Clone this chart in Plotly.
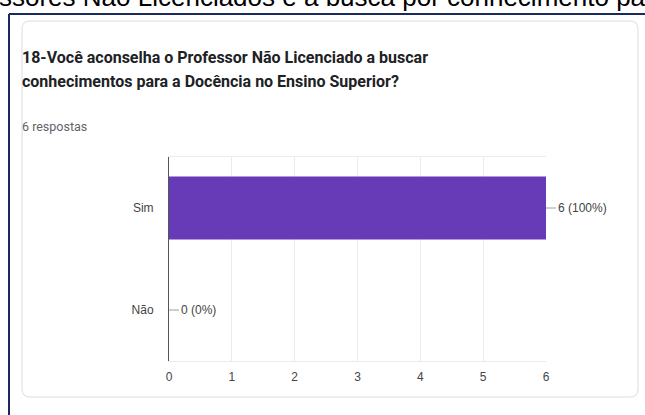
import plotly.graph_objects as go

# ---- data ----
categories = ["Sim", "Não"]
counts = [6, 0]
pct_labels = ["6 (100%)", "0 (0%)"]
x_ticks = [0, 1, 2, 3, 4, 5, 6]
title_lines = [
    "18-Você aconselha o Professor Não Licenciado a buscar",
    "conhecimentos para a Docência no Ensino Superior?",
]
subtitle = "6 respostas"
header_text = "ssores Não Licenciados e a busca por conhecimento para"

W, H = 645, 415
L, R, T, B = 169, 99, 157, 54
PW, PH = W - L - R, H - T - B


def px(X):
    return (X - L) / PW


def py(Y):
    return (H - B - Y) / PH


fig = go.Figure()
fig.add_trace(go.Bar(
    y=categories, x=counts, orientation="h",
    marker=dict(color="#673ab7", line=dict(width=0)),
    hoverinfo="skip",
))

annotations = []
for cat, val, lab in zip(categories, counts, pct_labels):
    annotations.append(dict(
        x=val, y=cat, xref="x", yref="y", text=lab,
        showarrow=True, arrowhead=0, arrowwidth=1, arrowcolor="#9e9e9e",
        ax=10, ay=0, xanchor="left", yanchor="middle",
        font=dict(family="Liberation Sans, Arial", size=12, color="#444444"),
    ))

# title & subtitle
for i, line in enumerate(title_lines):
    annotations.append(dict(
        x=px(20), y=py(57 + 24 * i), xref="paper", yref="paper",
        text="<b>" + line + "</b>", showarrow=False,
        xanchor="left", yanchor="middle",
        font=dict(family="Roboto", size=16, color="#202124"),
    ))
annotations.append(dict(
    x=px(20), y=py(126), xref="paper", yref="paper",
    text=subtitle, showarrow=False, xanchor="left", yanchor="middle",
    font=dict(family="Roboto", size=12.5, color="#5f6368"),
))
# header text cut off at top
annotations.append(dict(
    x=px(-3), y=py(8), xref="paper", yref="paper",
    text=header_text, showarrow=False, xanchor="left", yanchor="bottom",
    yshift=-6,
    font=dict(family="Liberation Sans, Arial", size=26, color="#000000"),
))

# card (rounded rect) + navy frame
x0, y0, x1, y1, r = 22, 21, 638, 397, 8
path = (
    f"M {px(x0 + r)},{py(y0)} L {px(x1 - r)},{py(y0)} "
    f"Q {px(x1)},{py(y0)} {px(x1)},{py(y0 + r)} "
    f"L {px(x1)},{py(y1 - r)} Q {px(x1)},{py(y1)} {px(x1 - r)},{py(y1)} "
    f"L {px(x0 + r)},{py(y1)} Q {px(x0)},{py(y1)} {px(x0)},{py(y1 - r)} "
    f"L {px(x0)},{py(y0 + r)} Q {px(x0)},{py(y0)} {px(x0 + r)},{py(y0)} Z"
)
shapes = [
    dict(type="path", path=path, xref="paper", yref="paper",
         line=dict(color="#dadce0", width=1), fillcolor="white", layer="below"),
    dict(type="line", xref="paper", yref="paper",
         x0=px(9), y0=py(14), x1=px(W + 5), y1=py(14),
         line=dict(color="#1b2a5c", width=2)),
    dict(type="line", xref="paper", yref="paper",
         x0=px(9), y0=py(14), x1=px(9), y1=py(H + 5),
         line=dict(color="#1b2a5c", width=2)),
]

fig.update_layout(
    width=W, height=H,
    margin=dict(l=L, r=R, t=T, b=B, pad=0),
    paper_bgcolor="white", plot_bgcolor="white",
    showlegend=False, bargap=0.38,
    annotations=annotations, shapes=shapes,
    font=dict(family="Liberation Sans, Arial", size=12, color="#444444"),
    xaxis=dict(
        range=[0, 6], tickvals=x_ticks, showgrid=True, gridcolor="#ebebeb",
        gridwidth=1, zeroline=False, showline=True, mirror=True,
        linecolor="#ebebeb", linewidth=1, ticks="", ticklabelstandoff=5,
        tickfont=dict(size=12, color="#444444"), fixedrange=True,
    ),
    yaxis=dict(
        categoryorder="array", categoryarray=categories, autorange="reversed",
        showgrid=False, zeroline=False, showline=True, linecolor="#555555",
        linewidth=1, ticks="", ticklabelstandoff=12,
        tickfont=dict(size=12, color="#444444"), fixedrange=True,
    ),
)

fig.write_html(
    "out.html",
    config={"displayModeBar": False},
    post_script="document.body.style.margin='0';document.body.style.overflow='hidden';",
)
